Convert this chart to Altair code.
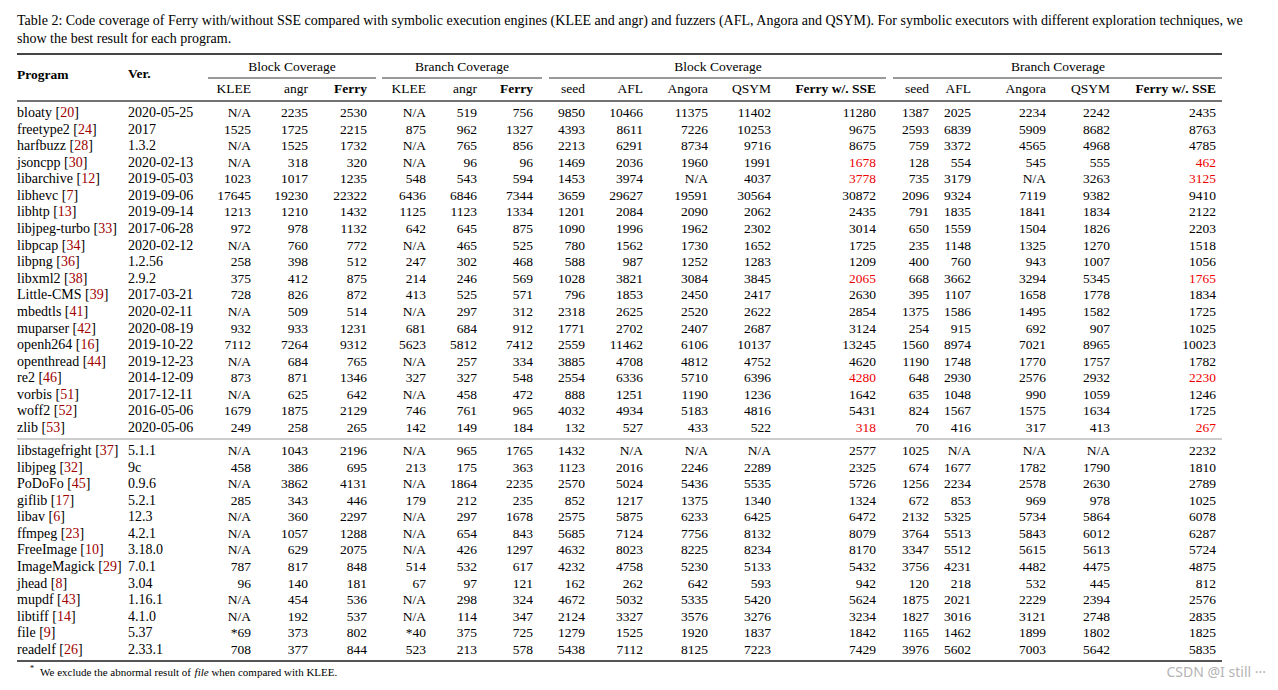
import altair as alt
import pandas as pd

# ---------------- data ----------------
programs = ["bloaty", "freetype2", "harfbuzz", "jsoncpp", "libarchive", "libhevc", "libhtp",
            "libjpeg-turbo", "libpcap", "libpng", "libxml2", "Little-CMS", "mbedtls", "muparser",
            "openh264", "openthread", "re2", "vorbis", "woff2", "zlib",
            "libstagefright", "libjpeg", "PoDoFo", "giflib", "libav", "ffmpeg", "FreeImage",
            "ImageMagick", "jhead", "mupdf", "libtiff", "file", "readelf"]
refs = ["20", "24", "28", "30", "12", "7", "13", "33", "34", "36", "38", "39", "41", "42", "16",
        "44", "46", "51", "52", "53", "37", "32", "45", "17", "6", "23", "10", "29", "8", "43",
        "14", "9", "26"]
versions = ["2020-05-25", "2017", "1.3.2", "2020-02-13", "2019-05-03", "2019-09-06", "2019-09-14",
            "2017-06-28", "2020-02-12", "1.2.56", "2.9.2", "2017-03-21", "2020-02-11", "2020-08-19",
            "2019-10-22", "2019-12-23", "2014-12-09", "2017-12-11", "2016-05-06", "2020-05-06",
            "5.1.1", "9c", "0.9.6", "5.2.1", "12.3", "4.2.1", "3.18.0", "7.0.1", "3.04", "1.16.1",
            "4.1.0", "5.37", "2.33.1"]

blk_klee = ["N/A", "1525", "N/A", "N/A", "1023", "17645", "1213", "972", "N/A", "258", "375", "728",
            "N/A", "932", "7112", "N/A", "873", "N/A", "1679", "249",
            "N/A", "458", "N/A", "285", "N/A", "N/A", "N/A", "787", "96", "N/A", "N/A", "*69", "708"]
blk_angr = ["2235", "1725", "1525", "318", "1017", "19230", "1210", "978", "760", "398", "412", "826",
            "509", "933", "7264", "684", "871", "625", "1875", "258",
            "1043", "386", "3862", "343", "360", "1057", "629", "817", "140", "454", "192", "373", "377"]
blk_ferry = ["2530", "2215", "1732", "320", "1235", "22322", "1432", "1132", "772", "512", "875", "872",
             "514", "1231", "9312", "765", "1346", "642", "2129", "265",
             "2196", "695", "4131", "446", "2297", "1288", "2075", "848", "181", "536", "537", "802", "844"]
br_klee = ["N/A", "875", "N/A", "N/A", "548", "6436", "1125", "642", "N/A", "247", "214", "413",
           "N/A", "681", "5623", "N/A", "327", "N/A", "746", "142",
           "N/A", "213", "N/A", "179", "N/A", "N/A", "N/A", "514", "67", "N/A", "N/A", "*40", "523"]
br_angr = ["519", "962", "765", "96", "543", "6846", "1123", "645", "465", "302", "246", "525",
           "297", "684", "5812", "257", "327", "458", "761", "149",
           "965", "175", "1864", "212", "297", "654", "426", "532", "97", "298", "114", "375", "213"]
br_ferry = ["756", "1327", "856", "96", "594", "7344", "1334", "875", "525", "468", "569", "571",
            "312", "912", "7412", "334", "548", "472", "965", "184",
            "1765", "363", "2235", "235", "1678", "843", "1297", "617", "121", "324", "347", "725", "578"]
fb_seed = ["9850", "4393", "2213", "1469", "1453", "3659", "1201", "1090", "780", "588", "1028", "796",
           "2318", "1771", "2559", "3885", "2554", "888", "4032", "132",
           "1432", "1123", "2570", "852", "2575", "5685", "4632", "4232", "162", "4672", "2124", "1279", "5438"]
fb_afl = ["10466", "8611", "6291", "2036", "3974", "29627", "2084", "1996", "1562", "987", "3821", "1853",
          "2625", "2702", "11462", "4708", "6336", "1251", "4934", "527",
          "N/A", "2016", "5024", "1217", "5875", "7124", "8023", "4758", "262", "5032", "3327", "1525", "7112"]
fb_angora = ["11375", "7226", "8734", "1960", "N/A", "19591", "2090", "1962", "1730", "1252", "3084", "2450",
             "2520", "2407", "6106", "4812", "5710", "1190", "5183", "433",
             "N/A", "2246", "5436", "1375", "6233", "7756", "8225", "5230", "642", "5335", "3576", "1920", "8125"]
fb_qsym = ["11402", "10253", "9716", "1991", "4037", "30564", "2062", "2302", "1652", "1283", "3845", "2417",
           "2622", "2687", "10137", "4752", "6396", "1236", "4816", "522",
           "N/A", "2289", "5535", "1340", "6425", "8132", "8234", "5133", "593", "5420", "3276", "1837", "7223"]
fb_sse = ["11280", "9675", "8675", "1678", "3778", "30872", "2435", "3014", "1725", "1209", "2065", "2630",
          "2854", "3124", "13245", "4620", "4280", "1642", "5431", "318",
          "2577", "2325", "5726", "1324", "6472", "8079", "8170", "5432", "942", "5624", "3234", "1842", "7429"]
fr_seed = ["1387", "2593", "759", "128", "735", "2096", "791", "650", "235", "400", "668", "395",
           "1375", "254", "1560", "1190", "648", "635", "824", "70",
           "1025", "674", "1256", "672", "2132", "3764", "3347", "3756", "120", "1875", "1827", "1165", "3976"]
fr_afl = ["2025", "6839", "3372", "554", "3179", "9324", "1835", "1559", "1148", "760", "3662", "1107",
          "1586", "915", "8974", "1748", "2930", "1048", "1567", "416",
          "N/A", "1677", "2234", "853", "5325", "5513", "5512", "4231", "218", "2021", "3016", "1462", "5602"]
fr_angora = ["2234", "5909", "4565", "545", "N/A", "7119", "1841", "1504", "1325", "943", "3294", "1658",
             "1495", "692", "7021", "1770", "2576", "990", "1575", "317",
             "N/A", "1782", "2578", "969", "5734", "5843", "5615", "4482", "532", "2229", "3121", "1899", "7003"]
fr_qsym = ["2242", "8682", "4968", "555", "3263", "9382", "1834", "1826", "1270", "1007", "5345", "1778",
           "1582", "907", "8965", "1757", "2932", "1059", "1634", "413",
           "N/A", "1790", "2630", "978", "5864", "6012", "5613", "4475", "445", "2394", "2748", "1802", "5642"]
fr_sse = ["2435", "8763", "4785", "462", "3125", "9410", "2122", "2203", "1518", "1056", "1765", "1834",
          "1725", "1025", "10023", "1782", "2230", "1246", "1725", "267",
          "2232", "1810", "2789", "1025", "6078", "6287", "5724", "4875", "812", "2576", "2835", "1825", "5835"]

# rows where Ferry w/. SSE is shown in red
red_rows = ["jsoncpp", "libarchive", "libxml2", "re2", "zlib"]

sub_headers = ["KLEE", "angr", "Ferry", "KLEE", "angr", "Ferry", "seed", "AFL", "Angora", "QSYM",
               "Ferry w/. SSE", "seed", "AFL", "Angora", "QSYM", "Ferry w/. SSE"]
group_headers = ["Block Coverage", "Branch Coverage", "Block Coverage", "Branch Coverage"]
caption = ["Table 2: Code coverage of Ferry with/without SSE compared with symbolic execution engines (KLEE and angr) "
           "and fuzzers (AFL, Angora and QSYM). For symbolic executors with different exploration techniques, we",
           "show the best result for each program."]
footnote = ["We exclude the abnormal result of", "file", "when compared with KLEE."]

columns = [blk_klee, blk_angr, blk_ferry, br_klee, br_angr, br_ferry,
           fb_seed, fb_afl, fb_angora, fb_qsym, fb_sse, fr_seed, fr_afl, fr_angora, fr_qsym, fr_sse]
sse_cols = {10, 15}
bold_cols = {2, 5, 10, 15}

# ---------------- layout (pixels of the 1278x690 page) ----------------
FONT = "Liberation Serif"
FS = 13.5      # numbers / headers
FS_NAME = 14   # program names, versions, caption
FS_FOOT = 11
col_right = [251, 308, 367, 426, 477, 533, 585, 643, 708, 771, 876, 929, 971, 1046, 1110, 1216]
group_center = [292, 462, 718, 1058]
group_line = [(208, 376), (382, 542), (549, 886), (893, 1222)]
X_PROG, X_VER = 17, 128
ROW_STEP = 16.58

# Times / Liberation Serif advance widths (1/1000 em) used to place multi-coloured pieces
_W = {" ": 250, "[": 333, "]": 333, "-": 333, ".": 250, "/": 278, "*": 500,
      "A": 722, "B": 667, "C": 667, "D": 722, "E": 611, "F": 556, "G": 722, "H": 722, "I": 333,
      "J": 389, "K": 722, "L": 611, "M": 889, "N": 722, "O": 722, "P": 556, "Q": 722, "R": 667,
      "S": 556, "T": 611, "U": 722, "V": 722, "W": 944, "X": 722, "Y": 722, "Z": 611,
      "a": 444, "b": 500, "c": 444, "d": 500, "e": 444, "f": 333, "g": 500, "h": 500, "i": 278,
      "j": 278, "k": 500, "l": 278, "m": 778, "n": 500, "o": 500, "p": 500, "q": 500, "r": 333,
      "s": 389, "t": 278, "u": 500, "v": 500, "w": 722, "x": 500, "y": 500, "z": 444}
_WI = {"f": 278, "i": 278, "l": 278, "e": 444}


def tw(s, size, table=_W):
    return sum(table.get(ch, 500) for ch in s) * size / 1000.0


def row_y(i):
    return 113 + i * ROW_STEP if i < 20 else 451 + (i - 20) * ROW_STEP


RED = "#ee0000"
CITE = "#a00000"

num_rows, bold_rows, left_rows, name_rows = [], [], [], []
for i, p in enumerate(programs):
    y = row_y(i)
    left_rows.append(dict(x=X_VER, y=y, t=versions[i], c="black"))
    pre = f"{p} ["
    x_ref = X_PROG + tw(pre, FS_NAME)
    x_close = x_ref + tw(refs[i], FS_NAME)
    name_rows.append(dict(x=X_PROG, y=y, t=pre, c="black"))
    name_rows.append(dict(x=x_ref, y=y, t=refs[i], c=CITE))
    name_rows.append(dict(x=x_close, y=y, t="]", c="black"))
    for j, col in enumerate(columns):
        color = RED if (j in sse_cols and p in red_rows) else "black"
        num_rows.append(dict(x=col_right[j], y=y, t=col[i], c=color))

for j, h in enumerate(sub_headers):
    (bold_rows if j in bold_cols else num_rows).append(dict(x=col_right[j], y=89, t=h, c="black"))

center_rows = [dict(x=group_center[k], y=67, t=g, c="black") for k, g in enumerate(group_headers)]
left_bold = [dict(x=X_PROG, y=75, t="Program", c="black"), dict(x=X_VER, y=74, t="Ver.", c="black")]
caption_rows = [dict(x=17, y=21, t=caption[0], c="black"), dict(x=17, y=39, t=caption[1], c="black")]

X_FOOT = 40
SP = tw(" ", FS_FOOT)
x_ital = X_FOOT + tw(footnote[0], FS_FOOT) + SP
x_rest = x_ital + tw(footnote[1], FS_FOOT, _WI) + SP
foot_rows = [dict(x=X_FOOT, y=673, t=footnote[0], c="black"),
             dict(x=x_rest, y=673, t=footnote[2], c="black")]
foot_ital = [dict(x=x_ital, y=673, t=footnote[1], c="black")]
foot_star = [dict(x=30, y=669, t="*", c="black")]
wm = [dict(x=1266, y=673, t="CSDN @I still \u00b7\u00b7\u00b7", c="#b4b4b4")]

rules = [
    dict(x=17, x2=1222, y=54, w=2.0, c="#444444"),
    dict(x=17, x2=1222, y=101, w=1.6, c="#444444"),
    dict(x=17, x2=1222, y=439, w=1.0, c="#9a9a9a"),
    dict(x=17, x2=1222, y=661, w=2.0, c="#555555"),
] + [dict(x=a, x2=b, y=78, w=1.4, c="#777777") for a, b in group_line]

xs = alt.Scale(domain=[8, 1270], range=[0, 1262], nice=False, zero=False)
ys = alt.Scale(domain=[8, 682], range=[0, 674], nice=False, zero=False)


def text_layer(rows, align="left", weight="normal", size=FS, font=FONT, style="normal"):
    return alt.Chart(pd.DataFrame(rows)).mark_text(
        align=align, baseline="middle", font=font, fontSize=size, fontWeight=weight, fontStyle=style
    ).encode(
        x=alt.X("x:Q", scale=xs, axis=None),
        y=alt.Y("y:Q", scale=ys, axis=None),
        text="t:N",
        color=alt.Color("c:N", scale=None),
    )


rule_layer = alt.Chart(pd.DataFrame(rules)).mark_rule().encode(
    x=alt.X("x:Q", scale=xs, axis=None),
    x2="x2:Q",
    y=alt.Y("y:Q", scale=ys, axis=None),
    strokeWidth=alt.StrokeWidth("w:Q", scale=None),
    color=alt.Color("c:N", scale=None),
)

chart = alt.layer(
    rule_layer,
    text_layer(caption_rows, size=FS_NAME),
    text_layer(center_rows, align="center"),
    text_layer(left_bold, weight="bold"),
    text_layer(num_rows, align="right"),
    text_layer(bold_rows, align="right", weight="bold"),
    text_layer(left_rows, size=FS_NAME),
    text_layer(name_rows, size=FS_NAME),
    text_layer(foot_rows, size=FS_FOOT),
    text_layer(foot_ital, size=FS_FOOT, style="italic"),
    text_layer(foot_star, size=8),
    text_layer(wm, align="right", size=14, font="Noto Sans"),
).properties(
    width=1262, height=674, padding=0, autosize="none", background="white"
).configure_view(strokeWidth=0)

chart.save("out.html", embed_options={"renderer": "svg", "actions": False})
